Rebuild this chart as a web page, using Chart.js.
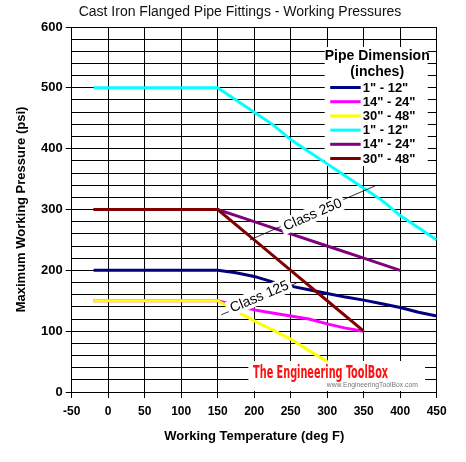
<!DOCTYPE html>
<html><head><meta charset="utf-8">
<script src="https://cdn.jsdelivr.net/npm/chart.js@4.4.1/dist/chart.umd.min.js"></script>
<style>html,body{margin:0;padding:0;background:#fff}</style>
</head><body>
<canvas id="c" width="466" height="462"></canvas>
<script>
// ---- data ----
const chartTitle = 'Cast Iron Flanged Pipe Fittings - Working Pressures';
const xTitle = 'Working Temperature (deg F)';
const yTitle = 'Maximum Working Pressure (psi)';
const legendTitle = ['Pipe Dimension', '(inches)'];
const seriesLabels = ['1" - 12"', '14" - 24"', '30" - 48"', '1" - 12"', '14" - 24"', '30" - 48"'];
const seriesColors = ['#000080', '#ff00ff', '#ffff00', '#00ffff', '#800080', '#800000'];

// Class 125
const temps125a = [-20, 150, 175, 200, 225, 250, 275, 300, 325, 350, 375, 400, 425, 450];
const psi125a   = [200, 200, 196, 190, 181, 174, 168, 162, 156, 151, 145, 139, 131, 125];
const temps125b = [-20, 150, 200, 225, 250, 275, 300, 325, 350];
const psi125b   = [150, 150, 135, 130, 125, 120, 112, 105, 100];
const temps125c = [-20, 150, 200, 225, 250, 275, 300];
const psi125c   = [150, 150, 117, 102, 87, 68, 50];
// Class 250
const temps250a = [-20, 150, 200, 225, 250, 275, 300, 325, 350, 375, 400, 425, 450];
const psi250a   = [500, 500, 460, 440, 415, 395, 375, 355, 335, 315, 290, 270, 250];
const temps250b = [-20, 150, 200, 250, 300, 350, 400];
const psi250b   = [300, 300, 280, 260, 240, 220, 200];
const temps250c = [-20, 150, 200, 250, 300, 350];
const psi250c   = [300, 300, 250, 200, 150, 100];

const xTicks = {min: -50, max: 450, step: 50};
const yTicks = {min: 0, max: 600, step: 20, labelStep: 100};

// annotation labels (data coordinates)
const classLabels = ['Class 125', 'Class 250'];
const leaderFrom  = [[155, 127], [194, 250]];
const leaderTo    = [[258, 179], [366, 339]];
const labelAt     = [[207, 157], [280, 292]];

const watermarkMain = 'The Engineering ToolBox';
const watermarkUrl = 'www.EngineeringToolBox.com';

// ---- build ----
const temps = [temps125a, temps125b, temps125c, temps250a, temps250b, temps250c];
const psis  = [psi125a, psi125b, psi125c, psi250a, psi250b, psi250c];
const FONT = '"Liberation Sans", Arial, sans-serif';

const datasets = temps.map((t, i) => ({
  label: seriesLabels[i],
  data: t.map((x, k) => ({x: x, y: psis[i][k]})),
  borderColor: seriesColors[i],
  backgroundColor: seriesColors[i],
  borderWidth: 3,
  pointRadius: 0,
  tension: 0,
  fill: false,
  order: temps.length - i
}));

const bgPlugin = {
  id: 'bg',
  beforeDraw(chart) {
    const ctx = chart.ctx;
    ctx.save(); ctx.fillStyle = '#fff'; ctx.fillRect(0, 0, chart.width, chart.height); ctx.restore();
  }
};

const underlayPlugin = {
  id: 'underlay',
  beforeDatasetsDraw(chart) {
    const ctx = chart.ctx, ca = chart.chartArea;
    const xs = chart.scales.x, ys = chart.scales.y;
    ctx.save();
    // watermark box
    const wx1 = xs.getPixelForValue(192), wx2 = xs.getPixelForValue(434);
    const wy1 = ys.getPixelForValue(51), wy2 = ys.getPixelForValue(0) - 1;
    ctx.fillStyle = '#fff';
    ctx.fillRect(wx1, wy1, wx2 - wx1, wy2 - wy1);
    // main watermark text
    ctx.font = 'bold 17px "Liberation Sans Narrow", "DejaVu Sans Condensed", sans-serif';
    let w = ctx.measureText(watermarkMain).width;
    let tx = xs.getPixelForValue(198.5), ty = ys.getPixelForValue(29.5);
    ctx.save();
    ctx.translate(tx, ty);
    ctx.scale(135 / w, 1);
    ctx.fillStyle = '#ff1010';
    ctx.textBaseline = 'middle';
    ctx.textAlign = 'left';
    ctx.fillText(watermarkMain, 0, 0);
    ctx.restore();
    // url
    ctx.font = '8px ' + FONT;
    w = ctx.measureText(watermarkUrl).width;
    tx = xs.getPixelForValue(299.5); ty = ys.getPixelForValue(11.5);
    ctx.save();
    ctx.translate(tx, ty);
    ctx.scale(91 / w, 1);
    ctx.fillStyle = '#777';
    ctx.textBaseline = 'middle';
    ctx.fillText(watermarkUrl, 0, 0);
    ctx.restore();

    // legend box
    const lx1 = ca.right - 112, lx2 = ca.right - 9, ly1 = ca.top + 20, ly2 = ca.top + 139;
    ctx.fillStyle = '#fff';
    ctx.fillRect(lx1, ly1, lx2 - lx1, ly2 - ly1);
    ctx.fillStyle = '#000';
    ctx.textAlign = 'center';
    ctx.textBaseline = 'middle';
    ctx.font = 'bold 14px ' + FONT;
    const cx = (lx1 + lx2) / 2 + 1;
    ctx.fillText(legendTitle[0], cx, ly1 + 9);
    ctx.fillText(legendTitle[1], cx, ly1 + 25.5);
    ctx.font = 'bold 13px ' + FONT;
    ctx.textAlign = 'left';
    for (let i = 0; i < seriesLabels.length; i++) {
      const yy = ly1 + 40.5 + i * 14.2;
      ctx.strokeStyle = seriesColors[i];
      ctx.lineWidth = 3;
      ctx.beginPath();
      ctx.moveTo(lx1 + 5.5, yy);
      ctx.lineTo(lx1 + 36, yy);
      ctx.stroke();
      ctx.fillStyle = '#000';
      ctx.fillText(seriesLabels[i], lx1 + 38, yy + 0.5);
    }
    ctx.restore();
  }
};

const overlayPlugin = {
  id: 'overlay',
  afterDatasetsDraw(chart) {
    const ctx = chart.ctx;
    const xs = chart.scales.x, ys = chart.scales.y;
    ctx.save();
    for (let i = 0; i < classLabels.length; i++) {
      const x1 = xs.getPixelForValue(leaderFrom[i][0]), y1 = ys.getPixelForValue(leaderFrom[i][1]);
      const x2 = xs.getPixelForValue(leaderTo[i][0]), y2 = ys.getPixelForValue(leaderTo[i][1]);
      const ang = Math.atan2(y2 - y1, x2 - x1);
      ctx.strokeStyle = '#000';
      ctx.lineWidth = 0.8;
      ctx.beginPath(); ctx.moveTo(x1, y1); ctx.lineTo(x2, y2); ctx.stroke();
      const cx = xs.getPixelForValue(labelAt[i][0]), cy = ys.getPixelForValue(labelAt[i][1]);
      ctx.save();
      ctx.translate(cx, cy);
      ctx.rotate(ang);
      ctx.font = '14px ' + FONT;
      const w = ctx.measureText(classLabels[i]).width;
      ctx.fillStyle = '#fff';
      ctx.fillRect(-w / 2 - 3, -8, w + 6, 16);
      ctx.fillStyle = '#000';
      ctx.textAlign = 'center';
      ctx.textBaseline = 'middle';
      ctx.fillText(classLabels[i], 0, 0.5);
      ctx.restore();
    }
    ctx.restore();
  }
};

new Chart(document.getElementById('c'), {
  type: 'line',
  data: {datasets: datasets},
  options: {
    responsive: false,
    animation: false,
    devicePixelRatio: 1,
    layout: {padding: {left: 14, right: 0, top: 0, bottom: 0}},
    plugins: {
      legend: {display: false},
      tooltip: {enabled: false},
      title: {
        display: true, text: chartTitle, color: '#111',
        font: {family: FONT, size: 14, weight: 'normal'},
        padding: {top: 4, bottom: 6.2}
      }
    },
    scales: {
      x: {
        type: 'linear', min: xTicks.min, max: xTicks.max,
        ticks: {stepSize: xTicks.step, color: '#000', padding: 6, autoSkip: false,
                font: {family: FONT, size: 12, weight: 'bold'}},
        grid: {color: '#000', lineWidth: 1, tickLength: 6, tickColor: '#000'},
        border: {color: '#000', width: 1},
        title: {display: true, text: xTitle, color: '#000',
                font: {family: FONT, size: 13, weight: 'bold'}, padding: {top: 0, bottom: 18}},
        afterFit(s) { s.height = 70; }
      },
      y: {
        type: 'linear', min: yTicks.min, max: yTicks.max,
        ticks: {stepSize: yTicks.step, color: '#000', padding: 3, autoSkip: false,
                font: {family: FONT, size: 13, weight: 'bold'},
                callback: v => (v % yTicks.labelStep === 0 ? String(v) : '')},
        grid: {color: '#000', lineWidth: 1, tickLength: 6,
               tickColor: c => (c.tick && c.tick.value % yTicks.labelStep === 0 ? '#000' : 'rgba(0,0,0,0)')},
        border: {color: '#000', width: 1},
        title: {display: true, text: yTitle, color: '#000',
                font: {family: FONT, size: 13, weight: 'bold'}, padding: {top: 0, bottom: 0}},
        afterFit(s) { s.width = 57.7; }
      },
      y2: {
        position: 'right', display: true,
        grid: {display: false, drawTicks: false},
        ticks: {display: false},
        border: {display: false},
        afterFit(s) { s.width = 29.3; }
      }
    }
  },
  plugins: [bgPlugin, underlayPlugin, overlayPlugin]
});
</script>
</body></html>
